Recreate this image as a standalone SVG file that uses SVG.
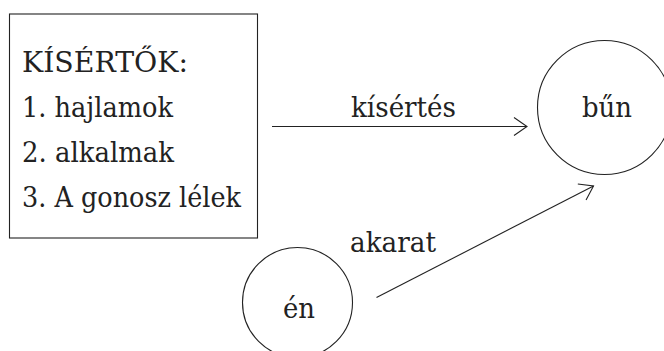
<svg xmlns="http://www.w3.org/2000/svg" width="664" height="351" viewBox="0 0 664 351">
<defs>
<style>
.t{font-family:"DejaVu Serif","Liberation Serif",serif;font-size:28px;fill:#222}
.s{fill:none;stroke:#222;stroke-width:1.1}
</style>
<marker id="ah" markerUnits="userSpaceOnUse" markerWidth="30" markerHeight="30" refX="0" refY="0" viewBox="-15 -15 30 30" orient="auto" overflow="visible">
<path d="M-13,-9 L0,0 L-13,9" fill="none" stroke="#222" stroke-width="1.1"/>
</marker>
</defs>
<rect width="664" height="351" fill="#fff"/>
<g id="kisertok">
<rect class="s" x="9.5" y="14" width="248" height="224"/>
<text class="t" x="22" y="72" textLength="166" lengthAdjust="spacingAndGlyphs">KÍSÉRTŐK:</text>
<text class="t" x="22" y="117" textLength="151" lengthAdjust="spacingAndGlyphs">1. hajlamok</text>
<text class="t" x="22" y="162" textLength="152" lengthAdjust="spacingAndGlyphs">2. alkalmak</text>
<text class="t" x="22" y="207" textLength="219" lengthAdjust="spacingAndGlyphs">3. A gonosz lélek</text>
</g>
<g id="bun">
<circle class="s" cx="604.5" cy="107.5" r="67"/>
<text class="t" x="582" y="117" textLength="50" lengthAdjust="spacingAndGlyphs">bűn</text>
</g>
<g id="en">
<circle class="s" cx="297.5" cy="302.5" r="55"/>
<text class="t" x="283" y="318" textLength="32" lengthAdjust="spacingAndGlyphs">én</text>
</g>
<g id="connectors">
<line class="s" x1="272" y1="126.5" x2="527" y2="126.5" marker-end="url(#ah)"/>
<text class="t" x="351" y="117" textLength="105" lengthAdjust="spacingAndGlyphs">kísértés</text>
<line class="s" x1="376.5" y1="297.5" x2="593.5" y2="186" marker-end="url(#ah)"/>
<text class="t" x="350" y="252" textLength="86" lengthAdjust="spacingAndGlyphs">akarat</text>
</g>
</svg>
